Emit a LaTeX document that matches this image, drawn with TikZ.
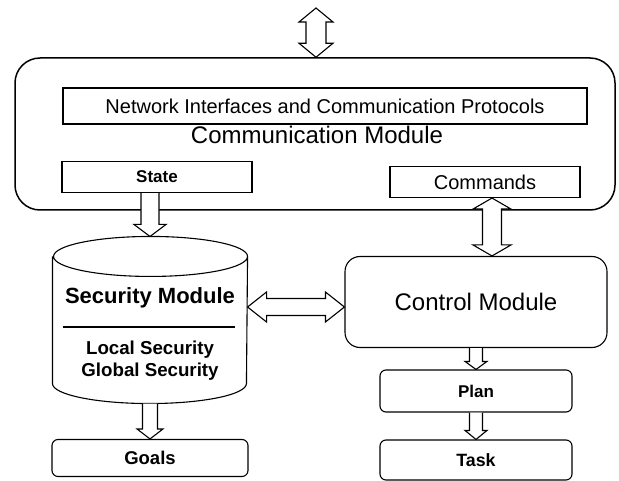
\documentclass[tikz,border=0pt]{standalone}
\usepackage{fontspec}
\setmainfont{Liberation Sans}
\usetikzlibrary{calc}

\begin{document}
\begin{tikzpicture}[x=1pt, y=-1pt, line width=1.1pt,
    block/.style={rectangle, draw, fill=white, minimum width=190pt, minimum height=31pt, inner sep=2pt, font=\fontsize{17}{20}\selectfont\bfseries},
    rblock/.style={block, rounded corners=6pt},
    bigtext/.style={font=\fontsize{24}{28}\selectfont},
    fatone/.style n args={3}{fill=white, to path={
      ($(\tikztotarget)!#3!(\tikztostart)$) coordinate (fa-b)
      ($(\tikztostart)!#1!90:(\tikztotarget)$)
      -- ($(fa-b)!#1!90:(\tikztotarget)$) -- ($(fa-b)!#2!90:(\tikztotarget)$)
      -- (\tikztotarget)
      -- ($(fa-b)!#2!-90:(\tikztotarget)$) -- ($(fa-b)!#1!-90:(\tikztotarget)$)
      -- ($(\tikztostart)!#1!-90:(\tikztotarget)$)}},
    fatboth/.style n args={3}{fill=white, to path={
      ($(\tikztostart)!#3!(\tikztotarget)$) coordinate (fa-a)
      ($(\tikztotarget)!#3!(\tikztostart)$) coordinate (fa-b)
      (\tikztostart) -- ($(fa-a)!#2!90:(\tikztotarget)$) -- ($(fa-a)!#1!90:(\tikztotarget)$)
      -- ($(fa-b)!#1!90:(\tikztotarget)$) -- ($(fa-b)!#2!90:(\tikztotarget)$)
      -- (\tikztotarget)
      -- ($(fa-b)!#2!-90:(\tikztotarget)$) -- ($(fa-b)!#1!-90:(\tikztotarget)$)
      -- ($(fa-a)!#1!-90:(\tikztotarget)$) -- ($(fa-a)!#2!-90:(\tikztotarget)$) -- cycle}}]

    \useasboundingbox[fill=white] (0,0) rectangle (619,481);

    \node[draw, rounded corners=25pt, line width=1.5pt, minimum width=600pt, minimum height=152pt] (comm) at (315,134) {};
    \node[block, minimum width=524pt, minimum height=36pt, font=\fontsize{20}{23}\selectfont] (netif) at (325,106) {Network Interfaces and Communication Protocols};
    \node[bigtext] (commlabel) at (317,135) {Communication Module};
    \node[block] (state) at (157,177) {State};
    \node[block, font=\fontsize{20}{23}\selectfont] (commands) at (485,182) {Commands};
    \coordinate (ext) at (316,8);

    \node[minimum width=194pt, minimum height=166pt, inner sep=0pt] (secmod) at (150,320) {};
    \draw[fill=white] ([yshift=-20pt]secmod.north west) -- ([yshift=20pt]secmod.south west)
      arc[start angle=180, end angle=360, x radius=97pt, y radius=20pt]
      -- ([yshift=-20pt]secmod.north east)
      arc[start angle=0, end angle=180, x radius=97pt, y radius=20pt]
      arc[start angle=180, end angle=360, x radius=97pt, y radius=20pt];
    \node[font=\fontsize{22}{26}\selectfont\bfseries] (sectitle) at (150,298) {Security Module};
    \node[align=center, font=\fontsize{18.7}{22}\selectfont\bfseries] (seclist) at (150,361) {Local Security\\Global Security};
    \draw (63,327) -- (235,327);
    \node[rblock, minimum width=196pt, minimum height=37pt, below of=secmod, node distance=138pt, font=\fontsize{18.5}{22}\selectfont\bfseries] (goals) {Goals};

    \node[draw, fill=white, rounded corners=15pt, minimum width=262pt, minimum height=91pt, bigtext] (ctrl) at (476,302) {Control Module};
    \node[rblock, minimum width=192pt, minimum height=42pt, below of=ctrl, node distance=89pt] (plan) {Plan};
    \node[rblock, minimum width=192pt, minimum height=40pt, below of=plan, node distance=69pt, font=\fontsize{17.8}{21}\selectfont\bfseries] (task) {Task};
    \coordinate (ctrlin) at ([yshift=-5pt]ctrl.west);
    \coordinate (cmdout) at ([xshift=7pt]commands.south);

    \draw[fatboth={10pt}{17pt}{14pt}] (ext) to (comm.north -| ext);
    \draw[fatone={9pt}{16pt}{12pt}] (state.south -| secmod.north) to (secmod.north);
    \draw[fatboth={9.5pt}{19pt}{11pt}] (cmdout) to (cmdout |- ctrl.north);
    \draw[fatboth={8.5pt}{15pt}{19pt}] (secmod.east |- ctrlin) to (ctrlin);
    \draw[fatone={7.5pt}{13pt}{10pt}] (secmod.south) to (goals.north);
    \draw[fatone={6.5pt}{11pt}{8pt}] (ctrl.south -| plan.north) to (plan.north);
    \draw[fatone={6.5pt}{11pt}{9pt}] (plan.south) to (task.north);

\end{tikzpicture}
\end{document}
